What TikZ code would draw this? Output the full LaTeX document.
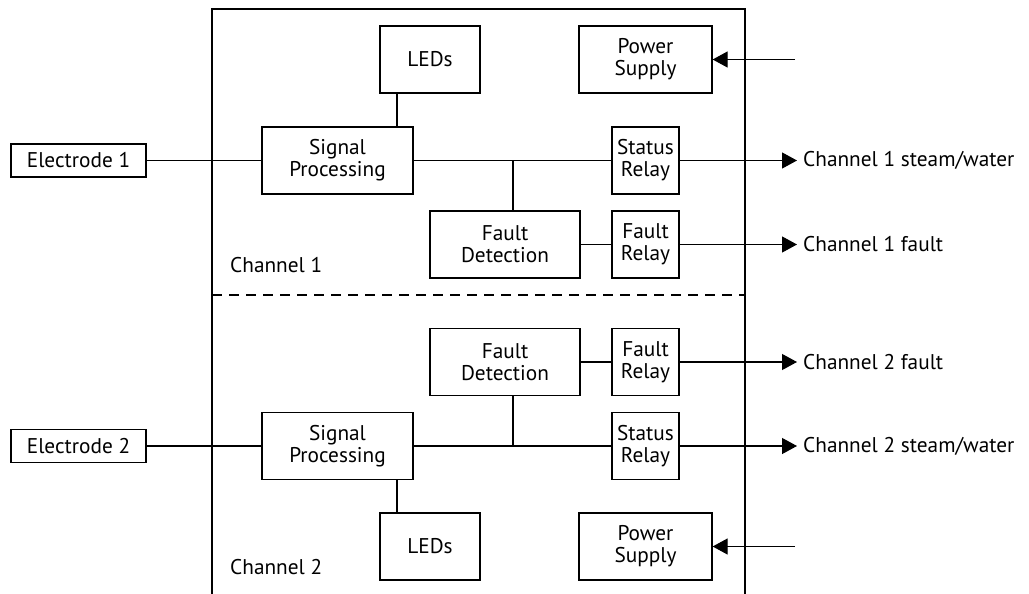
\documentclass[tikz,border=0pt]{standalone}
\usepackage{fontspec}
\setmainfont{PT Sans}
\usetikzlibrary{arrows.meta}
\begin{document}
\begin{tikzpicture}[x=1pt,y=-1pt,
  every node/.style={font=\fontsize{21.3}{22}\selectfont},
  blk/.style={draw,line width=1.3pt,rectangle,inner sep=0pt,align=center,minimum height=67pt},
  conn/.style={line width=1.2pt},
  outarrow/.style={line width=1.2pt,-{Triangle[length=15pt,width=16pt]}},
  lbl/.style={anchor=west,inner sep=0pt}]
\useasboundingbox (0,0) rectangle (1029,594);
% outer frame
\draw[line width=1.6pt] (212,594) -- (212,9) -- (745,9) -- (745,594);
\draw[line width=1.2pt,dash pattern=on 10pt off 7pt] (212,295) -- (745,295);
% channel 1
\node[blk,minimum width=135pt,minimum height=33pt] (E1) at (78.5,160.5) {Electrode 1};
\node[blk,minimum width=151pt] (SP1) at (337.5,160.5) {Signal\\Processing};
\node[blk,minimum width=100pt] (L1) at (430,59.5) {LEDs};
\node[blk,minimum width=133pt] (PS1) at (645.5,59.5) {Power\\Supply};
\node[blk,minimum width=67pt] (SR1) at (645.5,160.5) {Status\\Relay};
\node[blk,minimum width=150pt] (FD1) at (505,244.5) {Fault\\Detection};
\node[blk,minimum width=67pt] (FR1) at (645.5,244.5) {Fault\\Relay};
\node[lbl] (C1) at (230,265) {Channel 1};
% channel 2
\node[blk,minimum width=135pt,minimum height=33pt] (E2) at (78.5,446) {Electrode 2};
\node[blk,minimum width=151pt] (SP2) at (337.5,446) {Signal\\Processing};
\node[blk,minimum width=100pt] (L2) at (430,546.5) {LEDs};
\node[blk,minimum width=133pt] (PS2) at (645.5,546.5) {Power\\Supply};
\node[blk,minimum width=67pt] (SR2) at (645.5,446) {Status\\Relay};
\node[blk,minimum width=150pt] (FD2) at (505,362) {Fault\\Detection};
\node[blk,minimum width=67pt] (FR2) at (645.5,362) {Fault\\Relay};
\node[lbl] (C2) at (230,567) {Channel 2};
% helper coordinates
\coordinate (cx) at (397,0);
\coordinate (j1) at (513,160.5);
\coordinate (j2) at (513,446);
\coordinate (o1) at (797,160.5);
\coordinate (o2) at (797,244.5);
\coordinate (o3) at (797,362);
\coordinate (o4) at (797,446);
\coordinate (p1) at (795,59.5);
\coordinate (p2) at (795,546.5);
% output labels
\node[lbl] (t1) at (803,160.5) {Channel 1 steam/water};
\node[lbl] (t2) at (803,244.5) {Channel 1 fault};
\node[lbl] (t3) at (803,362) {Channel 2 fault};
\node[lbl] (t4) at (803,446) {Channel 2 steam/water};
% connectors channel 1
\draw[conn] (E1.east) -- (SP1.west);
\draw[conn] (SP1.north -| cx) -- (L1.south -| cx);
\draw[conn] (SP1.east) -- (SR1.west);
\draw[conn] (j1) -- (j1 |- FD1.north);
\draw[conn] (FD1.east) -- (FR1.west);
\draw[outarrow] (SR1.east) -- (o1);
\draw[outarrow] (FR1.east) -- (o2);
\draw[outarrow] (p1) -- (PS1.east);
% connectors channel 2
\draw[conn] (E2.east) -- (SP2.west);
\draw[conn] (SP2.south -| cx) -- (L2.north -| cx);
\draw[conn] (SP2.east) -- (SR2.west);
\draw[conn] (j2) -- (j2 |- FD2.south);
\draw[conn] (FD2.east) -- (FR2.west);
\draw[outarrow] (SR2.east) -- (o4);
\draw[outarrow] (FR2.east) -- (o3);
\draw[outarrow] (p2) -- (PS2.east);
\end{tikzpicture}
\end{document}
